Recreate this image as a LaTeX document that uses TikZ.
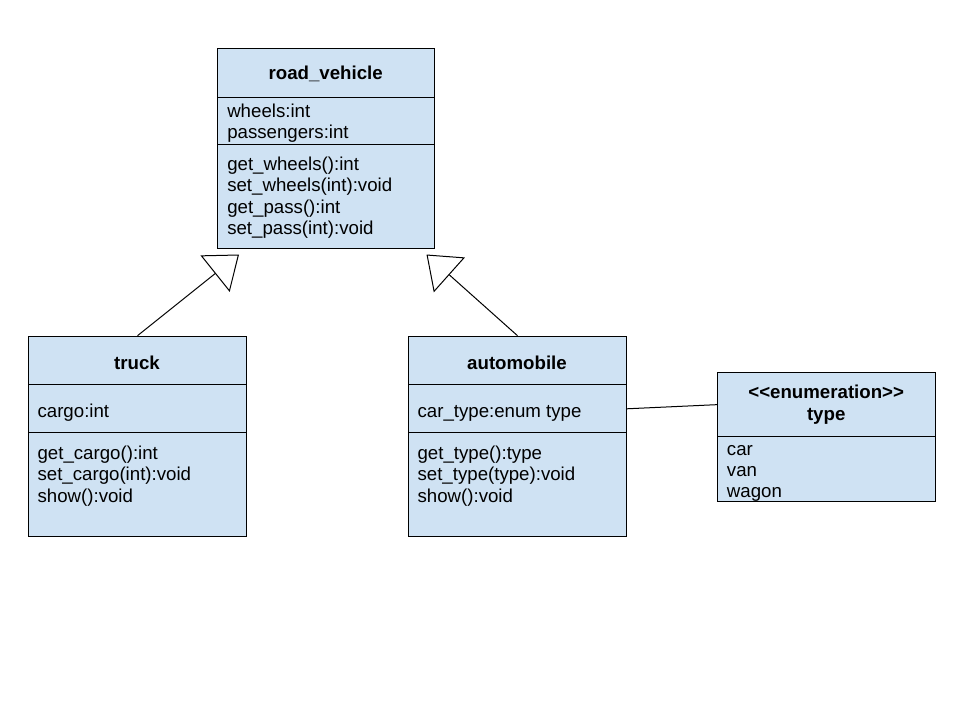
\documentclass[tikz,border=0pt]{standalone}
\usepackage{fontspec}
\setmainfont{Liberation Sans}
\usetikzlibrary{arrows.meta}
\definecolor{umlblue}{HTML}{CFE2F3}
\def\px{0.75pt}
\begin{document}
\begin{tikzpicture}[x=0.75pt,y=-0.75pt,
  part/.style={draw=black, fill=umlblue, line width=0.75pt, rectangle,
    inner sep=0pt, anchor=north west},
  member/.style={font=\fontsize{14}{16}\selectfont, inner sep=0pt, anchor=base west},
  cname/.style={font=\fontsize{14}{16}\selectfont\bfseries, inner sep=0pt, anchor=base},
  link/.style={draw=black, line width=0.75pt},
  inherit/.style={link, -{Triangle[open, length=23pt, width=35pt]}}]
\fill[white] (0,0) rectangle (960,720);
\useasboundingbox (0,0) rectangle (960,720);

% road_vehicle class
\node[part, minimum width=216.7*\px, minimum height=48.4*\px] (rv-head) at (217.3,48.3) {};
\node[part, minimum width=216.7*\px, minimum height=47.6*\px] (rv-attr) at (217.3,96.7) {};
\node[part, minimum width=216.7*\px, minimum height=103.5*\px] (rv-ops) at (217.3,144.3) {};
\node[cname] (rv-name) at (325.7,79.8) {road\_vehicle};
\node[member] (rv-a1) at (227,117.3) {wheels:int};
\node[member] (rv-a2) at (227,138.6) {passengers:int};
\foreach \t [count=\i from 0] in {get\_wheels():int, set\_wheels(int):void, get\_pass():int, set\_pass(int):void}
  \node[member] (rv-m\i) at (227,170.6+21.33*\i) {\t};

% truck class
\node[part, minimum width=217.4*\px, minimum height=48.6*\px] (tr-head) at (28.3,335.7) {};
\node[part, minimum width=217.4*\px, minimum height=48*\px] (tr-attr) at (28.3,384.3) {};
\node[part, minimum width=217.4*\px, minimum height=103.4*\px] (tr-ops) at (28.3,432.3) {};
\node[cname] (tr-name) at (137,369.2) {truck};
\node[member] (tr-a1) at (37.3,417) {cargo:int};
\foreach \t [count=\i from 0] in {get\_cargo():int, set\_cargo(int):void, show():void}
  \node[member] (tr-m\i) at (37.3,459.6+21.33*\i) {\t};

% automobile class
\node[part, minimum width=217.4*\px, minimum height=48.6*\px] (au-head) at (408.3,335.7) {};
\node[part, minimum width=217.4*\px, minimum height=48*\px] (au-attr) at (408.3,384.3) {};
\node[part, minimum width=217.4*\px, minimum height=103.4*\px] (au-ops) at (408.3,432.3) {};
\node[cname] (au-name) at (517,369.2) {automobile};
\node[member] (au-a1) at (417.3,417) {car\_type:enum type};
\foreach \t [count=\i from 0] in {get\_type():type, set\_type(type):void, show():void}
  \node[member] (au-m\i) at (417.3,459.6+21.33*\i) {\t};

% enumeration type
\node[part, minimum width=217.7*\px, minimum height=63.7*\px] (en-head) at (717.3,372.3) {};
\node[part, minimum width=217.7*\px, minimum height=64.7*\px] (en-lits) at (717.3,436) {};
\node[cname] (en-stereo) at (826.2,398.6) {<\kern0pt<enumeration>\kern0pt>};
\node[cname] (en-name) at (826.2,420.6) {type};
\foreach \t [count=\i from 0] in {car, van, wagon}
  \node[member] (en-l\i) at (726.7,455.2+21.33*\i) {\t};

% generalisations and association
\coordinate (tr-tip) at (239,254.5);
\coordinate (au-tip) at (426.5,254.5);
\draw[inherit] (tr-head.north) -- (tr-tip);
\draw[inherit] (au-head.north) -- (au-tip);
\draw[link] (au-attr.east) -- (en-head.west);
\end{tikzpicture}
\end{document}
